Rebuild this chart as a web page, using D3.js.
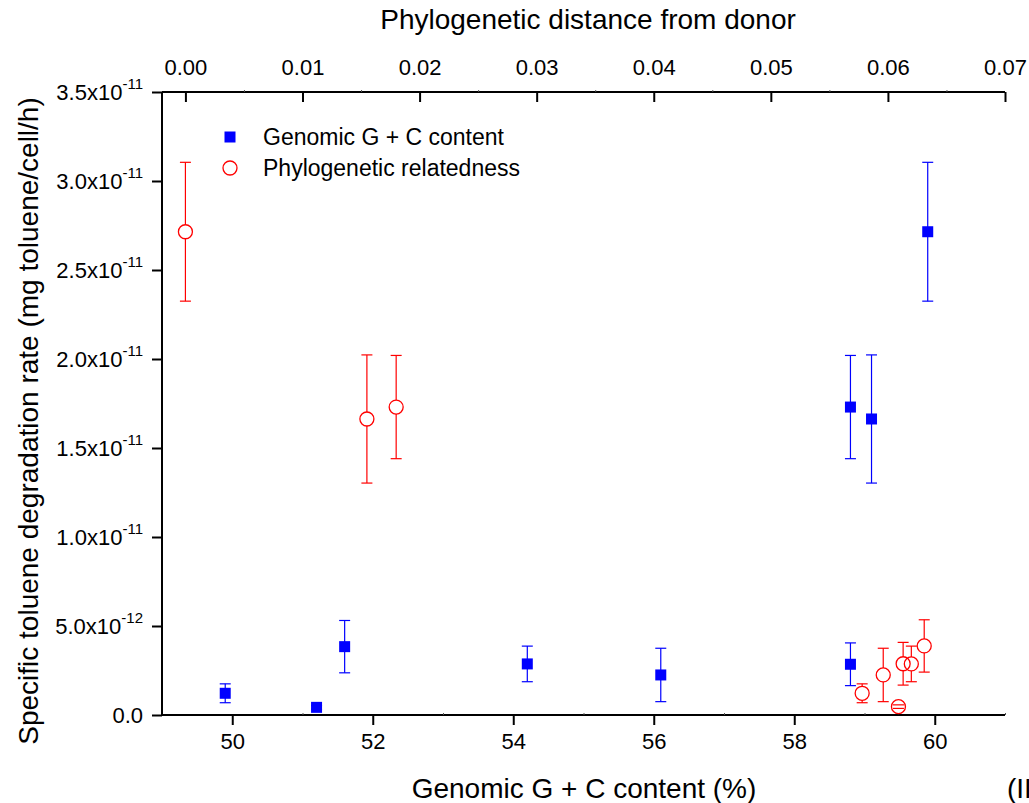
<!DOCTYPE html>
<html>
<head>
<meta charset="utf-8">
<script src="https://cdn.jsdelivr.net/npm/d3@7"></script>
<style>
  html, body { margin: 0; padding: 0; background: #fff; }
  svg { display: block; font-family: "Liberation Sans", Arial, sans-serif; }
</style>
</head>
<body>
<svg id="chart" width="1029" height="803"></svg>
<script>
// ---- Data ----
// Series 1: Genomic G + C content (bottom axis)
const gcContent = [49.9, 51.2, 51.6, 54.2, 56.1, 58.8, 58.8, 59.1, 59.9];
const gcRate    = [1.22e-12, 0.43e-12, 3.84e-12, 2.87e-12, 2.25e-12, 2.85e-12, 1.73e-11, 1.663e-11, 2.715e-11];
const gcErr     = [0.53e-12, 0.1e-12, 1.47e-12, 1.0e-12, 1.5e-12, 1.2e-12, 0.29e-11, 0.36e-11, 0.39e-11];

// Series 2: Phylogenetic relatedness (top axis)
const phyloDist = [0.000, 0.0155, 0.018, 0.0578, 0.0596, 0.0609, 0.0613, 0.0620, 0.0631];
const phyloRate = [2.715e-11, 1.663e-11, 1.73e-11, 1.22e-12, 2.25e-12, 0.47e-12, 2.88e-12, 2.87e-12, 3.88e-12];
const phyloErr  = [0.39e-11, 0.36e-11, 0.29e-11, 0.53e-12, 1.5e-12, 0.1e-12, 1.2e-12, 1.0e-12, 1.47e-12];

// Tick labels
const xTicks = [50, 52, 54, 56, 58, 60];
const xMinorTicks = [49, 51, 53, 55, 57, 59, 61];
const topTicks = [0.00, 0.01, 0.02, 0.03, 0.04, 0.05, 0.06, 0.07];
const topMinorTicks = [0.005, 0.015, 0.025, 0.035, 0.045, 0.055, 0.065];
const yTicks = [0, 5e-12, 1e-11, 1.5e-11, 2e-11, 2.5e-11, 3e-11, 3.5e-11];
const yTickMantissa = ["0.0", "5.0x10", "1.0x10", "1.5x10", "2.0x10", "2.5x10", "3.0x10", "3.5x10"];
const yTickExp = ["", "-12", "-11", "-11", "-11", "-11", "-11", "-11"];

const seriesNames = ["Genomic G + C content", "Phylogenetic relatedness"];
const xTitle = "Genomic G + C content (%)";
const topTitle = "Phylogenetic distance from donor";
const yTitle = "Specific toluene degradation rate (mg toluene/cell/h)";

// ---- Layout ----
const L = 162, R = 1005, T = 92, B = 715;
const blue = "#0000ff", red = "#ff0000";

const svg = d3.select("#chart");
const x = d3.scaleLinear().domain([49, 61]).range([L, R]);
const xt = d3.scaleLinear().domain([-0.002, 0.07]).range([L, R]);
const y = d3.scaleLinear().domain([0, 3.5e-11]).range([B, T]);

// Axes
const bottomAxis = svg.append("g").attr("transform", `translate(0,${B})`)
  .call(d3.axisBottom(x).tickValues(xTicks).tickSize(10).tickPadding(8).tickFormat(d3.format("d")));
const bottomMinor = svg.append("g").attr("transform", `translate(0,${B})`)
  .call(d3.axisTop(x).tickValues(xMinorTicks).tickSize(2).tickFormat(""));
const topAxis = svg.append("g").attr("transform", `translate(0,${T})`)
  .call(d3.axisTop(xt).tickValues(topTicks).tickSize(-10).tickPadding(17).tickFormat(d3.format(".2f")));
const topMinor = svg.append("g").attr("transform", `translate(0,${T})`)
  .call(d3.axisTop(xt).tickValues(topMinorTicks).tickSize(2).tickFormat(""));
const leftAxis = svg.append("g").attr("transform", `translate(${L},0)`)
  .call(d3.axisLeft(y).tickValues(yTicks).tickSize(10).tickFormat(""));

[bottomAxis, bottomMinor, topAxis, topMinor, leftAxis].forEach(g => {
  g.select(".domain").attr("stroke", "#000").attr("stroke-width", 2);
  g.selectAll(".tick line").attr("stroke", "#000").attr("stroke-width", 2);
  g.selectAll(".tick text").attr("font-size", 22).attr("fill", "#000")
    .attr("font-family", '"Liberation Sans", Arial, sans-serif');
});
[bottomMinor, topMinor].forEach(g => {
  g.select(".domain").remove();
  g.selectAll(".tick line").attr("stroke-width", 1).attr("stroke", "#555");
});
leftAxis.select(".domain").attr("d", `M0,${B}V${T}`);
bottomAxis.select(".domain").attr("d", `M${L},0H${R}`);
topAxis.select(".domain").attr("d", `M${L},0H${R}`);

// Y tick labels with superscripts
const yLab = svg.append("g");
yTicks.forEach((v, i) => {
  const t = yLab.append("text")
    .attr("x", 143).attr("y", y(v) + 8)
    .attr("text-anchor", "end").attr("font-size", 22).attr("fill", "#000");
  t.append("tspan").text(yTickMantissa[i]);
  if (yTickExp[i]) {
    t.append("tspan").attr("font-size", 15).attr("dy", -11).text(yTickExp[i]);
  }
});

// Titles
svg.append("text").attr("x", 588).attr("y", 29).attr("text-anchor", "middle")
  .attr("font-size", 28).text(topTitle);
svg.append("text").attr("x", 584).attr("y", 798).attr("text-anchor", "middle")
  .attr("font-size", 28).text(xTitle);
svg.append("text").attr("transform", "translate(38,421) rotate(-90)").attr("text-anchor", "middle")
  .attr("font-size", 28).text(yTitle);
svg.append("text").attr("x", 1007).attr("y", 798).attr("font-size", 28).text("(II)");

// Error bars helper
const cap = 5.5;
function errorBars(g, xs, ys, es, sx, color, gap) {
  xs.forEach((xv, i) => {
    const cx = sx(xv), cy = y(ys[i]);
    const top = y(ys[i] + es[i]), bot = y(ys[i] - es[i]);
    const e = g.append("g").attr("stroke", color).attr("stroke-width", 1.2).attr("fill", "none");
    if (cy - gap > top) e.append("line").attr("x1", cx).attr("x2", cx).attr("y1", top).attr("y2", cy - gap);
    if (cy + gap < bot) e.append("line").attr("x1", cx).attr("x2", cx).attr("y1", cy + gap).attr("y2", bot);
    e.append("line").attr("x1", cx - cap).attr("x2", cx + cap).attr("y1", top).attr("y2", top);
    e.append("line").attr("x1", cx - cap).attr("x2", cx + cap).attr("y1", bot).attr("y2", bot);
  });
}

const marks = svg.append("g");
errorBars(marks, gcContent, gcRate, gcErr, x, blue, 0);
errorBars(marks, phyloDist, phyloRate, phyloErr, xt, red, 7);

const sq = 11;
marks.selectAll("rect.gc").data(gcContent).join("rect").attr("class", "gc")
  .attr("x", (d) => x(d) - sq / 2).attr("y", (d, i) => y(gcRate[i]) - sq / 2)
  .attr("width", sq).attr("height", sq).attr("fill", blue);

marks.selectAll("circle.ph").data(phyloDist).join("circle").attr("class", "ph")
  .attr("cx", (d) => xt(d)).attr("cy", (d, i) => y(phyloRate[i])).attr("r", 7)
  .attr("fill", "none").attr("stroke", red).attr("stroke-width", 1.3);

// Legend
const lg = svg.append("g");
lg.append("rect").attr("x", 230 - sq / 2).attr("y", 137 - sq / 2).attr("width", sq).attr("height", sq).attr("fill", blue);
lg.append("text").attr("x", 263).attr("y", 145).attr("font-size", 23).text(seriesNames[0]);
lg.append("circle").attr("cx", 230).attr("cy", 168).attr("r", 7).attr("fill", "none").attr("stroke", red).attr("stroke-width", 1.3);
lg.append("text").attr("x", 263).attr("y", 176).attr("font-size", 23).text(seriesNames[1]);
</script>
</body>
</html>
